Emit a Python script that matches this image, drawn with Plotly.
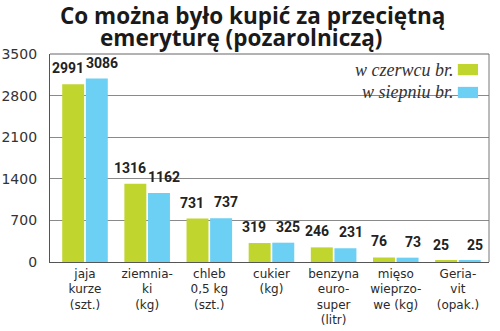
import plotly.graph_objects as go

categories = ["jaja<br>kurze<br>(szt.)", "ziemnia-<br>ki<br>(kg)", "chleb<br>0,5 kg<br>(szt.)",
              "cukier<br>(kg)", "benzyna<br>euro-<br>super<br>(litr)", "mięso<br>wieprzo-<br>we (kg)",
              "Geria-<br>vit<br>(opak.)"]
june = [2991, 1316, 731, 319, 246, 76, 25]
august = [3086, 1162, 737, 325, 231, 73, 25]
series_names = ["w czerwcu br.", "w siepniu br."]
y_ticks = [0, 700, 1400, 2100, 2800, 3500]
title_lines = ["Co można było kupić za przeciętną", "emeryturę (pozarolniczą)"]

GREEN = "#c1d52f"
BLUE = "#6ccff4"

fig = go.Figure()
for name, vals, col in [(series_names[0], june, GREEN), (series_names[1], august, BLUE)]:
    fig.add_trace(go.Bar(x=categories, y=vals, name=name,
                         marker=dict(color=col, line=dict(width=0))))

# value labels, spread outward from each pair of bars
for vals, shift in [(june, -17), (august, 17)]:
    for c, v in zip(categories, vals):
        fig.add_annotation(x=c, y=v, text="<b>%d</b>" % v, showarrow=False,
                           xshift=shift, yshift=6, yanchor="bottom",
                           font=dict(family="Roboto", size=14, color="#222222"))

fig.update_layout(
    width=500, height=331,
    margin=dict(l=50, r=11, t=54, b=69),
    paper_bgcolor="white", plot_bgcolor="white",
    barmode="group", bargap=0.24, bargroupgap=0.07,
    showlegend=False,
    xaxis=dict(showline=True, linecolor="#555555", linewidth=1.2, mirror=False, automargin=False,
               ticks="", tickfont=dict(family="DejaVu Sans", size=12, color="#2a2a2a")),
    yaxis=dict(range=[0, 3500], tickvals=y_ticks, showgrid=True, gridcolor="#8a8a8a", gridwidth=1,
               showline=True, linecolor="#555555", linewidth=1.2, zeroline=False, automargin=False,
               ticks="", ticklabelstandoff=9,
               tickfont=dict(family="DejaVu Sans", size=14, color="#333333")),
)

# title, one annotation per line
for txt, x, y in [(title_lines[0], 0.462, 1.1875), (title_lines[1], 0.435, 1.08)]:
    fig.add_annotation(xref="paper", yref="paper", x=x, y=y, xanchor="center", yanchor="middle",
                       text="<b>" + txt + "</b>", showarrow=False,
                       font=dict(family="Open Sans", size=22.5, color="#1a1a1a"))

# right and top frame
fig.add_shape(type="line", xref="paper", yref="paper", x0=1, x1=1, y0=0, y1=1,
              line=dict(color="#777777", width=1))
fig.add_shape(type="line", xref="paper", yref="paper", x0=0, x1=1, y0=1, y1=1,
              line=dict(color="#666666", width=1))

# legend drawn as text with colour swatches to the right
for i, (name, col) in enumerate([(series_names[0], GREEN), (series_names[1], BLUE)]):
    yc = 0.925 - i * 0.11
    fig.add_annotation(xref="paper", yref="paper", x=0.924, y=yc, xanchor="right", yanchor="middle",
                       text="<i>" + name + "</i>", showarrow=False,
                       font=dict(family="Liberation Serif", size=18, color="#333333"))
    fig.add_shape(type="rect", xref="paper", yref="paper", x0=0.929, x1=0.975,
                  y0=yc - 0.027, y1=yc + 0.027, fillcolor=col, line=dict(width=0))

fig.write_html("out.html")
